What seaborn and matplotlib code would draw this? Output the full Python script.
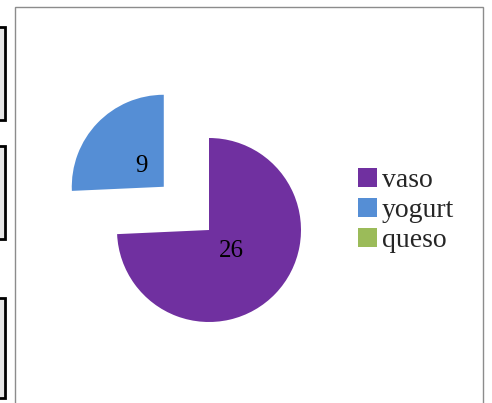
import matplotlib
matplotlib.use("Agg")
import matplotlib.pyplot as plt
import seaborn as sns
from matplotlib.patches import Rectangle

categories = ["vaso", "yogurt", "queso"]
values = [26, 9, 0]
colors = ["#7030A0", "#558ED5", "#9BBB59"]

sns.set_theme(style="white")
plt.rcParams["font.family"] = ["Liberation Serif", "DejaVu Serif"]

W, H = 492, 403
fig = plt.figure(figsize=(W / 100, H / 100), dpi=100)
ax = fig.add_axes([0, 0, 1, 1])

R = 92.0
cx, cy = 209.0, 230.0  # pixel coords from top-left

def fmt(p):
    v = int(round(p * sum(values) / 100.0))
    return "" if v == 0 else str(v)

wedges, texts, autotexts = ax.pie(
    values,
    colors=sns.color_palette(colors),
    startangle=90,
    counterclock=False,
    explode=[0, 0.68, 0],
    autopct=fmt,
    pctdistance=0.33,
    wedgeprops=dict(linewidth=0),
    textprops=dict(fontsize=18, color="black"),
)
ax.set_aspect("auto")
ax.set_xlim(-cx / R, (W - cx) / R)
ax.set_ylim(-(H - cy) / R, cy / R)
ax.axis("off")

# chart border
def px_rect(x0, y0, x1, y1, **kw):
    r = Rectangle((x0 / W, 1 - y1 / H), (x1 - x0) / W, (y1 - y0) / H,
                  transform=fig.transFigure, **kw)
    fig.add_artist(r)

px_rect(15, 7, 483, 410, fill=False, edgecolor="#8c8c8c", linewidth=1.0)
# partial boxes on the left edge
for y0, y1 in [(27, 120), (146, 239), (298, 398)]:
    px_rect(-10, y0, 5, y1, facecolor="#e6e6e6", edgecolor="black", linewidth=2.0)

leg = fig.legend(
    wedges, categories,
    loc="upper left",
    bbox_to_anchor=(358 / W, 1 - 168 / H),
    frameon=False,
    fontsize=20,
    handlelength=0.68,
    handleheight=0.68,
    handletextpad=0.18,
    labelspacing=0.17,
    borderpad=0,
    borderaxespad=0,
)

fig.savefig("out.png", dpi=100)
